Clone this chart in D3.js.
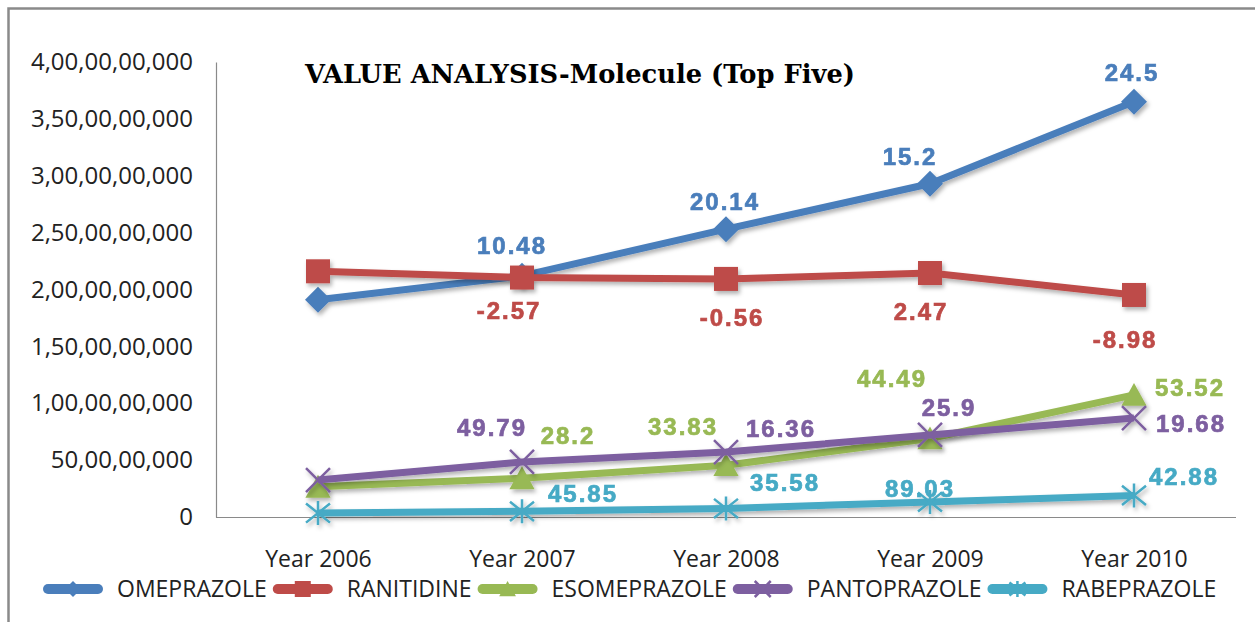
<!DOCTYPE html>
<html>
<head>
<meta charset="utf-8">
<script src="https://cdn.jsdelivr.net/npm/d3@7"></script>
<style>
    body { margin: 0; background: #fff; }
    svg { display: block; }
</style>
</head>
<body>
<div id="chart"></div>
<script>
var years = ['Year 2006', 'Year 2007', 'Year 2008', 'Year 2009', 'Year 2010'];
var yTicks = [0, 500000000, 1000000000, 1500000000, 2000000000, 2500000000, 3000000000, 3500000000, 4000000000];

var omeprazole = [1910000000, 2120000000, 2530000000, 2930000000, 3650000000];
var ranitidine = [2160000000, 2105000000, 2093000000, 2145000000, 1952000000];
var esomeprazole = [265000000, 340000000, 455000000, 690000000, 1073000000];
var pantoprazole = [325000000, 484000000, 571000000, 721000000, 870000000];
var rabeprazole = [35000000, 50000000, 75000000, 132000000, 190000000];

var omeprazoleGrowth = [null, '10.48', '20.14', '15.2', '24.5'];
var ranitidineGrowth = [null, '-2.57', '-0.56', '2.47', '-8.98'];
var esomeprazoleGrowth = [null, '28.2', '33.83', '44.49', '53.52'];
var pantoprazoleGrowth = [null, '49.79', '16.36', '25.9', '19.68'];
var rabeprazoleGrowth = [null, '45.85', '35.58', '89.03', '42.88'];

var series = [
    { name: 'OMEPRAZOLE', values: omeprazole, growth: omeprazoleGrowth, color: '#4a7ebb', marker: 'diamond' },
    { name: 'RANITIDINE', values: ranitidine, growth: ranitidineGrowth, color: '#be4b48', marker: 'square' },
    { name: 'ESOMEPRAZOLE', values: esomeprazole, growth: esomeprazoleGrowth, color: '#98b954', marker: 'triangle' },
    { name: 'PANTOPRAZOLE', values: pantoprazole, growth: pantoprazoleGrowth, color: '#7d5fa0', marker: 'x' },
    { name: 'RABEPRAZOLE', values: rabeprazole, growth: rabeprazoleGrowth, color: '#46aac5', marker: 'star' }
];

// where each data label sits, relative to its point (label centre)
var labelOffsets = {
    OMEPRAZOLE: [null, [-10, -30], [-1, -28], [-20, -27], [-2, -29]],
    RANITIDINE: [null, [-13, 33], [6, 38], [-9, 38], [-9, 44]],
    ESOMEPRAZOLE: [null, [46, -43], [-43, -39], [-38, -60], [56, -8]],
    PANTOPRAZOLE: [null, [-30, -35], [55, -24], [19, -28], [57, 5]],
    RABEPRAZOLE: [null, [61, -18], [59, -26], [-10, -14], [50, -19]]
};

var width = 1255, height = 622;
var margin = { left: 216, right: 19, top: 62, bottom: 105 };

var svg = d3.select('#chart')
    .append('svg')
    .attr('width', width)
    .attr('height', height);

var defs = svg.append('defs');
var shadow = defs.append('filter')
    .attr('id', 'shadow')
    .attr('x', '-20%').attr('y', '-40%')
    .attr('width', '140%').attr('height', '180%');
shadow.append('feDropShadow')
    .attr('dx', 2).attr('dy', 3)
    .attr('stdDeviation', 2)
    .attr('flood-color', '#000')
    .attr('flood-opacity', 0.3);

// outer frame
svg.append('rect')
    .attr('x', 8.5).attr('y', 8.5)
    .attr('width', width + 20).attr('height', height + 20)
    .attr('fill', 'none')
    .attr('stroke', '#8a8a8a')
    .attr('stroke-width', 2.5);

var x = d3.scalePoint()
    .domain(years)
    .range([margin.left, width - margin.right])
    .padding(0.5);

var y = d3.scaleLinear()
    .domain([0, 4000000000])
    .range([height - margin.bottom, margin.top]);

function indian(n) {
    var s = String(Math.round(n));
    if (s.length <= 3) return s;
    var last = s.slice(-3);
    var rest = s.slice(0, -3).replace(/\B(?=(\d{2})+(?!\d))/g, ',');
    return rest + ',' + last;
}

// y axis
var yAxis = svg.append('g')
    .attr('transform', 'translate(' + margin.left + ',0)')
    .call(d3.axisLeft(y).tickValues(yTicks).tickFormat(indian).tickSize(0).tickPadding(23));
yAxis.select('.domain').attr('stroke', '#8a8a8a').attr('stroke-width', 1.2);
yAxis.selectAll('text')
    .attr('font-family', '"Open Sans", sans-serif')
    .attr('font-size', 24)
    .attr('fill', '#222');

// x axis
var xAxis = svg.append('g')
    .attr('transform', 'translate(0,' + (height - margin.bottom) + ')')
    .call(d3.axisBottom(x).tickSize(0).tickPadding(34));
xAxis.select('.domain').attr('stroke', '#8a8a8a').attr('stroke-width', 1.2)
    .attr('d', 'M' + margin.left + ',0.5H' + (width - margin.right));
xAxis.selectAll('text')
    .attr('font-family', '"Open Sans", sans-serif')
    .attr('font-size', 23)
    .attr('fill', '#222');

// title
svg.append('text')
    .attr('x', 305)
    .attr('y', 83)
    .attr('font-family', '"DejaVu Serif", serif')
    .attr('font-weight', 'bold')
    .attr('font-size', 26)
    .attr('textLength', 550)
    .attr('lengthAdjust', 'spacingAndGlyphs')
    .attr('fill', '#000')
    .text('VALUE ANALYSIS-Molecule (Top Five)');

function drawMarker(g, type, s, color) {
    if (type === 'diamond') {
        g.append('path').attr('d', 'M0,' + (-s) + 'L' + s + ',0L0,' + s + 'L' + (-s) + ',0Z').attr('fill', color);
    } else if (type === 'square') {
        g.append('rect').attr('x', -s).attr('y', -s).attr('width', 2 * s).attr('height', 2 * s).attr('fill', color);
    } else if (type === 'triangle') {
        g.append('path').attr('d', 'M0,' + (-s) + 'L' + (s * 1.05) + ',' + (s * 0.9) + 'L' + (-s * 1.05) + ',' + (s * 0.9) + 'Z').attr('fill', color);
    } else if (type === 'x') {
        g.append('path').attr('d', 'M' + (-s) + ',' + (-s) + 'L' + s + ',' + s + 'M' + s + ',' + (-s) + 'L' + (-s) + ',' + s)
            .attr('stroke', color).attr('stroke-width', 2.5).attr('fill', 'none');
    } else if (type === 'star') {
        g.append('path').attr('d', 'M' + (-s) + ',' + (-s * 0.8) + 'L' + s + ',' + (s * 0.8) + 'M' + s + ',' + (-s * 0.8) + 'L' + (-s) + ',' + (s * 0.8) + 'M0,' + (-s) + 'L0,' + s)
            .attr('stroke', color).attr('stroke-width', 2.5).attr('fill', 'none');
    }
}

var markerSize = { diamond: 13, square: 12, triangle: 12, x: 12, star: 12 };

var line = d3.line()
    .x(function (d, i) { return x(years[i]); })
    .y(function (d) { return y(d); });

var plot = svg.append('g');

series.forEach(function (s) {
    var g = plot.append('g').attr('filter', 'url(#shadow)');
    g.append('path')
        .attr('d', line(s.values))
        .attr('fill', 'none')
        .attr('stroke', s.color)
        .attr('stroke-width', 7)
        .attr('stroke-linejoin', 'round');

    s.values.forEach(function (v, i) {
        var m = g.append('g')
            .attr('transform', 'translate(' + x(years[i]) + ',' + y(v) + ')');
        drawMarker(m, s.marker, markerSize[s.marker], s.color);
    });
});

// data labels on top
series.forEach(function (s) {
    s.values.forEach(function (v, i) {
        if (!s.growth[i]) return;
        var off = labelOffsets[s.name][i];
        svg.append('text')
            .attr('x', x(years[i]) + off[0])
            .attr('y', y(v) + off[1])
            .attr('dy', '0.36em')
            .attr('text-anchor', 'middle')
            .attr('font-family', '"Liberation Sans", Arial, sans-serif')
            .attr('font-weight', 'bold')
            .attr('font-size', 24)
            .attr('letter-spacing', 2)
            .attr('fill', s.color)
            .attr('stroke', s.color)
            .attr('stroke-width', 0.7)
            .text(s.growth[i]);
    });
});

// legend
var legend = svg.append('g').attr('transform', 'translate(0,589)');
var lx = 43;
series.forEach(function (s) {
    var item = legend.append('g');
    item.append('line')
        .attr('x1', lx + 5).attr('x2', lx + 55)
        .attr('stroke', s.color)
        .attr('stroke-width', 10)
        .attr('stroke-linecap', 'round');
    var m = item.append('g').attr('transform', 'translate(' + (lx + 30) + ',0)');
    drawMarker(m, s.marker, 8, s.color);
    var t = item.append('text')
        .attr('x', lx + 74)
        .attr('dy', '0.36em')
        .attr('font-family', '"Open Sans", sans-serif')
        .attr('font-size', 23)
        .attr('fill', '#222')
        .text(s.name);
    lx = lx + 74 + t.node().getComputedTextLength() + 6;
});
</script>
</body>
</html>
